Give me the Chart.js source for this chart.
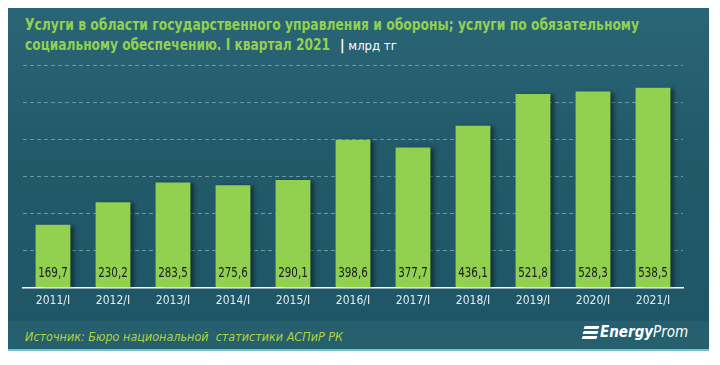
<!DOCTYPE html>
<html><head><meta charset="utf-8">
<script src="https://cdn.jsdelivr.net/npm/chart.js@4/dist/chart.umd.min.js"></script>
<style>
html,body{margin:0;padding:0;background:#fff;width:720px;height:365px;overflow:hidden;}
#panel{position:absolute;left:8px;top:8px;width:701px;height:343px;background:linear-gradient(180deg,#2a6576 0%,#225a6a 40%,#1f5667 100%);}
#footer{position:absolute;left:8px;top:321px;width:701px;height:30px;background:#26606f;border-bottom:2px solid #78c2c6;box-sizing:border-box;}
.fit{position:absolute;white-space:nowrap;transform-origin:0 50%;}
#t1,#t2{left:25px;color:#92d050;font-family:"DejaVu Sans Condensed","DejaVu Sans",sans-serif;font-weight:bold;font-size:16px;line-height:20px;}
#t1{top:15px;} #t2{top:35px;}
#unit{position:absolute;left:340px;top:37px;color:#ffffff;font-family:"DejaVu Sans Condensed","DejaVu Sans",sans-serif;font-size:13px;line-height:16px;white-space:nowrap;}
#src{left:25px;top:329px;color:#b0d33a;font-family:"DejaVu Sans Condensed","DejaVu Sans",sans-serif;font-style:italic;font-size:13px;line-height:16px;}
#logo{position:absolute;left:600px;top:323px;color:#fff;font-family:"DejaVu Sans Condensed","DejaVu Sans",sans-serif;font-style:italic;font-size:15px;white-space:nowrap;}
#logo b{font-weight:bold;}
.stripe{position:absolute;width:15px;height:3px;background:#fff;transform:skewX(-20deg);border-radius:1px;}
canvas{position:absolute;left:0;top:0;}
</style></head>
<body>
<div id="panel"></div>
<div id="footer"></div>
<div id="t1" class="fit" data-w="614">Услуги в области государственного управления и обороны; услуги по обязательному</div>
<div id="t2" class="fit" data-w="305">социальному обеспечению. I квартал 2021</div>
<div id="unit"><span style="font-weight:bold;font-size:14px;">|</span> млрд тг</div>
<div id="src" class="fit" data-w="318">Источник: Бюро национальной&nbsp; статистики АСПиР РК</div>
<div class="stripe" style="top:326px;left:584px;"></div>
<div class="stripe" style="top:331px;left:583px;"></div>
<div class="stripe" style="top:336px;left:582px;"></div>
<div id="logo"><b>Energy</b>Prom</div>
<canvas id="c" width="720" height="365"></canvas>
<script>
const categories = ["2011/I","2012/I","2013/I","2014/I","2015/I","2016/I","2017/I","2018/I","2019/I","2020/I","2021/I"];
const values = [169.7,230.2,283.5,275.6,290.1,398.6,377.7,436.1,521.8,528.3,538.5];
const valueLabels = ["169,7","230,2","283,5","275,6","290,1","398,6","377,7","436,1","521,8","528,3","538,5"];

document.querySelectorAll('.fit').forEach(el=>{
  const w = el.getBoundingClientRect().width; const t = +el.dataset.w;
  el.style.transform = 'scaleX(' + (t/w) + ')';
});

const shadowPlugin = {
  id:'shadow',
  beforeDatasetsDraw(chart){const ctx=chart.ctx;ctx.save();ctx.shadowColor='rgba(0,0,0,0.45)';ctx.shadowOffsetX=4;ctx.shadowOffsetY=1;ctx.shadowBlur=4;},
  afterDatasetsDraw(chart){chart.ctx.restore();}
};
const labelPlugin = {
  id:'vlabels',
  afterDatasetsDraw(chart){
    const ctx=chart.ctx; const meta=chart.getDatasetMeta(0); const yb=chart.scales.y.getPixelForValue(0);
    ctx.save(); ctx.fillStyle='#1b1b1b'; ctx.font='14px "DejaVu Sans Condensed","DejaVu Sans",sans-serif';
    ctx.textAlign='center'; ctx.textBaseline='middle';
    meta.data.forEach((b,i)=>{
      ctx.save(); ctx.translate(b.x, yb-14.5); ctx.scale(0.82,1);
      ctx.fillText(valueLabels[i], 0, 0); ctx.restore();
    });
    ctx.restore();
  }
};
new Chart(document.getElementById('c'),{
  type:'bar',
  data:{labels:categories,datasets:[{data:values,backgroundColor:'#92d050',borderWidth:0,barPercentage:0.58,categoryPercentage:1}]},
  options:{
    responsive:false,animation:false,
    layout:{padding:{left:23,right:37,top:65,bottom:51}},
    plugins:{legend:{display:false},tooltip:{enabled:false}},
    scales:{
      x:{grid:{display:false,drawTicks:false},border:{color:'#ffffff',width:1.5},
         ticks:{color:'#e4eef0',padding:6,font:{family:'"DejaVu Sans Condensed","DejaVu Sans",sans-serif',size:12}}},
      y:{min:0,max:600,ticks:{display:false,stepSize:100},border:{display:false,dash:[4,3]},
         grid:{color:'rgba(125,178,192,0.75)',drawTicks:false,tickLength:0}}
    }
  },
  plugins:[shadowPlugin,labelPlugin]
});
</script>
</body></html>
